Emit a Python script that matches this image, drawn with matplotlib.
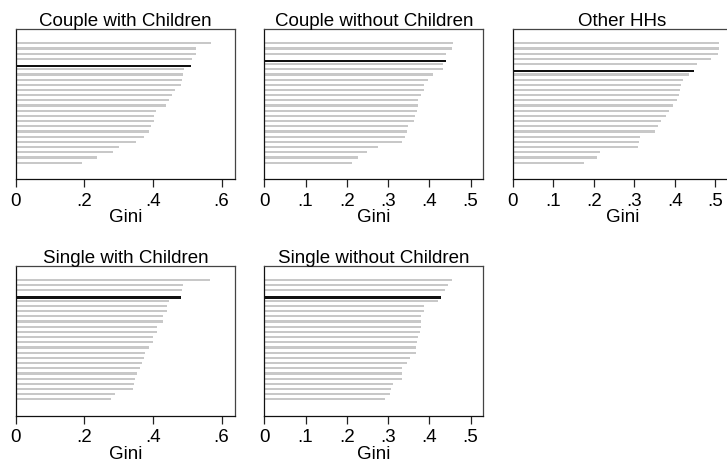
import matplotlib
matplotlib.use('Agg')
import matplotlib.pyplot as plt
from matplotlib.ticker import FuncFormatter

plt.rcParams['font.family'] = ['Liberation Sans', 'DejaVu Sans']

# Gini by country, sorted high to low; HIGHLIGHT marks the reference bar
TITLES = ['Couple with Children', 'Couple without Children', 'Other HHs',
          'Single with Children', 'Single without Children']

couple_kids = [0.568, 0.526, 0.524, 0.514, 0.511, 0.490, 0.488, 0.486, 0.483, 0.465,
               0.455, 0.448, 0.439, 0.410, 0.404, 0.404, 0.394, 0.387, 0.374, 0.350,
               0.300, 0.284, 0.238, 0.192]
couple_nokids = [0.457, 0.455, 0.441, 0.441, 0.434, 0.434, 0.409, 0.396, 0.387, 0.387,
                 0.379, 0.372, 0.372, 0.370, 0.366, 0.363, 0.348, 0.346, 0.340, 0.334,
                 0.275, 0.250, 0.227, 0.213]
other_hh = [0.510, 0.510, 0.507, 0.490, 0.455, 0.447, 0.436, 0.420, 0.415, 0.413,
            0.410, 0.406, 0.396, 0.386, 0.378, 0.367, 0.358, 0.352, 0.314, 0.313,
            0.310, 0.216, 0.208, 0.177]
single_kids = [0.565, 0.488, 0.485, 0.481, 0.446, 0.442, 0.440, 0.428, 0.428, 0.413,
               0.411, 0.401, 0.399, 0.387, 0.377, 0.373, 0.369, 0.363, 0.353, 0.347,
               0.344, 0.341, 0.290, 0.279]
single_nokids = [0.455, 0.445, 0.439, 0.428, 0.422, 0.388, 0.388, 0.381, 0.380, 0.380,
                 0.378, 0.372, 0.370, 0.369, 0.367, 0.353, 0.347, 0.335, 0.334, 0.334,
                 0.312, 0.308, 0.304, 0.292]

SERIES = [couple_kids, couple_nokids, other_hh, single_kids, single_nokids]
HIGHLIGHT = [4, 3, 5, 3, 3]

TICKS = [[0, 0.2, 0.4, 0.6], [0, 0.1, 0.2, 0.3, 0.4, 0.5], [0, 0.1, 0.2, 0.3, 0.4, 0.5],
         [0, 0.2, 0.4, 0.6], [0, 0.1, 0.2, 0.3, 0.4, 0.5]]
XMAX = [0.639, 0.531, 0.541, 0.639, 0.531]

W, H = 727, 464
# axes boxes in pixels: left, top, right, bottom
BOXES = [(15.7, 30, 235, 180), (264.3, 30, 483.3, 180), (512.7, 30, 731.7, 180),
         (15.7, 266.7, 235, 416.7), (264.3, 266.7, 483.3, 416.7)]

GRAY = '#c8c8c8'
FS = 13.5


def stata_fmt(v, pos):
    if abs(v) < 1e-9:
        return '0'
    return f'{v:.1f}'.lstrip('0')


fig = plt.figure(figsize=(W / 100, H / 100), dpi=100)

for title, vals, hi, ticks, xmax, box in zip(TITLES, SERIES, HIGHLIGHT, TICKS, XMAX, BOXES):
    l, t, r, b = box
    ax = fig.add_axes([l / W, 1 - b / H, (r - l) / W, (b - t) / H])
    n = len(vals)
    ys = list(range(n))
    gray_y = [y for y in ys if y != hi]
    gray_v = [vals[y] for y in gray_y]
    ax.barh(gray_y, gray_v, height=0.42, color=GRAY, linewidth=0)
    ax.barh(hi + 0.35, vals[hi], height=0.45, color='#111111', linewidth=0)

    ax.set_ylim(n - 1 + 3.14, -2.75)
    ax.set_xlim(0, xmax)
    ax.set_yticks([])
    ax.set_xticks(ticks)
    ax.xaxis.set_major_formatter(FuncFormatter(stata_fmt))
    ax.tick_params(axis='x', length=6, width=0.9, pad=3, labelsize=FS, color='#222222')
    ax.set_xlabel('Gini', fontsize=FS, labelpad=0)
    ax.set_title(title, fontsize=FS, pad=2.5)
    for side in ['left', 'bottom']:
        ax.spines[side].set_color('#111111')
        ax.spines[side].set_linewidth(0.9)
    for side in ['top', 'right']:
        ax.spines[side].set_color('#444444')
        ax.spines[side].set_linewidth(0.9)

fig.savefig('out.png', dpi=100)
